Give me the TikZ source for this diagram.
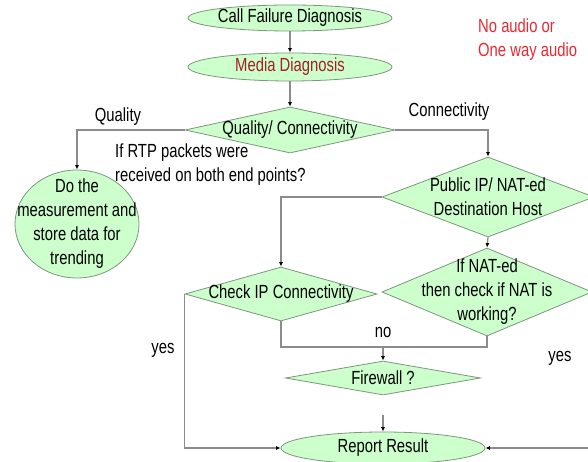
\documentclass[tikz,border=0pt]{standalone}
\usepackage{fontspec}
\setmainfont{Liberation Sans}[FakeStretch=0.78]
\usetikzlibrary{shapes.geometric,arrows.meta}
\definecolor{boxfill}{RGB}{204,255,204}
\definecolor{boxline}{RGB}{125,150,125}
\definecolor{conn}{RGB}{140,140,140}
\definecolor{mediared}{RGB}{165,30,40}
\definecolor{notered}{RGB}{232,40,50}
\begin{document}
\begin{tikzpicture}[x=1bp,y=-1bp,
  font=\fontsize{19bp}{24bp}\selectfont,
  shapebase/.style={draw=boxline,fill=boxfill,line width=0.8bp,inner sep=0pt},
  ell/.style={shapebase,ellipse},
  dia/.style={shapebase,diamond},
  ctr/.style={label={[align=center,inner sep=0pt]center:#1}},
  conline/.style={draw=conn,line width=1.3bp},
  arr/.style={conline,-{Latex[length=4.5bp,width=4bp,black]}},
  lbl/.style={inner sep=0pt}]
\useasboundingbox (0,0) rectangle (588,462);
% shapes
\node[ell,minimum width=204bp,minimum height=26bp,ctr={Call Failure Diagnosis}] (cfd) at (290,18) {};
\node[ell,minimum width=204bp,minimum height=28bp,ctr={\color{mediared}Media Diagnosis}] (md) at (290,67) {};
\node[dia,minimum width=210bp,minimum height=46bp,ctr={Quality/ Connectivity}] (qc) at (290,130) {};
\node[ell,minimum width=124bp,minimum height=108bp,ctr={Do the\\measurement and\\store data for\\trending}] (meas) at (77,224) {};
\node[dia,minimum width=212bp,minimum height=80bp,ctr={Public IP/ NAT-ed\\Destination Host}] (pub) at (488,197) {};
\node[dia,minimum width=192bp,minimum height=54bp,ctr={Check IP Connectivity}] (cip) at (281,294) {};
\node[dia,minimum width=210bp,minimum height=88bp,ctr={If NAT-ed\\then check if NAT is\\working?}] (nat) at (487,292) {};
\node[dia,minimum width=195bp,minimum height=34bp,ctr={Firewall ?}] (fw) at (383,378) {};
\node[ell,minimum width=204bp,minimum height=32bp,ctr={Report Result}] (rr) at (383,448) {};
% free coordinates
\coordinate (j) at (383,347);
\coordinate (f1) at (383,415);
\coordinate (r1) at (588,448);
% connectors
\draw[arr] (cfd.south) -- (md.north);
\draw[arr] (md.south) -- (qc.north);
\draw[arr] (qc.west) -| (meas.north);
\draw[arr] (qc.east) -| (pub.north);
\draw[arr] (pub.west) -| (cip.north);
\draw[arr] (pub.south) -- (nat.north);
\draw[conline] (cip.south) |- (j) -| (nat.south);
\draw[arr] (j) -- (fw.north);
\draw[arr] (f1) -- (rr.north);
\draw[arr] (cip.west) |- (rr.west);
\draw[arr] (r1) -- (rr.east);
% labels
\node[lbl] (lq) at (118,117) {Quality};
\node[lbl] (lc) at (449,112) {Connectivity};
\node[lbl,anchor=west,align=left] (rtp) at (115,165) {If RTP packets were\\received on both end points?};
\node[lbl] (ly1) at (163,350) {yes};
\node[lbl] (lno) at (383,332) {no};
\node[lbl] (ly2) at (560,358) {yes};
\node[lbl,anchor=west,align=left,text=notered] (note) at (478,40) {No audio or\\One way audio};
\end{tikzpicture}
\end{document}
